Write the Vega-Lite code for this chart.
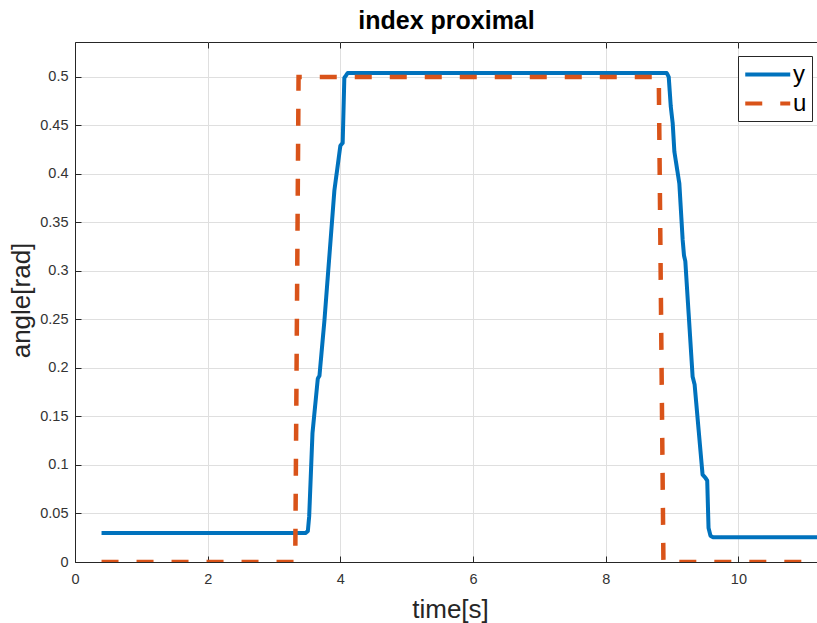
{
  "$schema": "https://vega.github.io/schema/vega-lite/v6.json",
  "width": 743,
  "height": 520,
  "autosize": {"type": "none"},
  "padding": {"left": 75, "top": 42, "right": 0, "bottom": 61},
  "background": "white",
  "title": {"text": "index proximal", "fontSize": 25, "fontWeight": "bold", "font": "Liberation Sans", "color": "#000000", "baseline": "bottom", "offset": 9, "frame": "group", "anchor": "middle", "dy": 26},
  "config": {
    "view": {"stroke": "#262626", "strokeWidth": 1},
    "axis": {
      "domainColor": "#262626",
      "tickColor": "#262626",
      "gridColor": "#dfdfdf",
      "gridWidth": 1,
      "labelFont": "Liberation Sans",
      "labelFontSize": 14.5,
      "labelColor": "#333333",
      "labelFlush": false,
      "titleFont": "Liberation Sans",
      "titleFontSize": 26,
      "titleFontWeight": "normal",
      "titleColor": "#262626"
    }
  },
  "resolve": {"axis": {"x": "independent", "y": "independent"}},
  "data": {
    "values": [
      {"s": "y", "t": 0.4, "v": 0.03},
      {"s": "y", "t": 3.48, "v": 0.03},
      {"s": "y", "t": 3.51, "v": 0.032},
      {"s": "y", "t": 3.53, "v": 0.047},
      {"s": "y", "t": 3.58, "v": 0.133},
      {"s": "y", "t": 3.66, "v": 0.189},
      {"s": "y", "t": 3.685, "v": 0.192},
      {"s": "y", "t": 3.76, "v": 0.249},
      {"s": "y", "t": 3.91, "v": 0.383},
      {"s": "y", "t": 4.0, "v": 0.429},
      {"s": "y", "t": 4.035, "v": 0.432},
      {"s": "y", "t": 4.06, "v": 0.499},
      {"s": "y", "t": 4.11, "v": 0.504},
      {"s": "y", "t": 8.92, "v": 0.504},
      {"s": "y", "t": 8.95, "v": 0.5},
      {"s": "y", "t": 8.98, "v": 0.47},
      {"s": "y", "t": 9.01, "v": 0.452},
      {"s": "y", "t": 9.035, "v": 0.423},
      {"s": "y", "t": 9.11, "v": 0.39},
      {"s": "y", "t": 9.16, "v": 0.332},
      {"s": "y", "t": 9.18, "v": 0.316},
      {"s": "y", "t": 9.2, "v": 0.31},
      {"s": "y", "t": 9.31, "v": 0.191},
      {"s": "y", "t": 9.34, "v": 0.183},
      {"s": "y", "t": 9.46, "v": 0.09},
      {"s": "y", "t": 9.5, "v": 0.087},
      {"s": "y", "t": 9.53, "v": 0.084},
      {"s": "y", "t": 9.55, "v": 0.035},
      {"s": "y", "t": 9.58, "v": 0.027},
      {"s": "y", "t": 9.62, "v": 0.0255},
      {"s": "y", "t": 11.2, "v": 0.0255},
      {"s": "u", "t": 0.4, "v": 0},
      {"s": "u", "t": 3.32, "v": 0},
      {"s": "u", "t": 3.37, "v": 0.5},
      {"s": "u", "t": 8.8, "v": 0.5},
      {"s": "u", "t": 8.87, "v": 0},
      {"s": "u", "t": 11.2, "v": 0}
    ]
  },
  "layer": [
    {
      "transform": [{"filter": "datum.s === 'y'"}],
      "mark": {"type": "line", "strokeWidth": 4, "clip": true, "strokeJoin": "round"},
      "encoding": {
        "x": {
          "field": "t", "type": "quantitative",
          "scale": {"domain": [0, 11.2], "nice": false, "zero": false},
          "axis": {"orient": "bottom", "values": [0, 2, 4, 6, 8, 10], "title": "time[s]", "ticks": false, "tickSize": 0, "labelPadding": 10, "titleBaseline": "alphabetic", "titleX": 375, "titleY": 55, "grid": true}
        },
        "y": {
          "field": "v", "type": "quantitative",
          "scale": {"domain": [0, 0.536], "nice": false},
          "axis": {"orient": "left", "values": [0, 0.05, 0.1, 0.15, 0.2, 0.25, 0.3, 0.35, 0.4, 0.45, 0.5], "format": "~g", "title": "angle[rad]", "ticks": false, "tickSize": 0, "labelPadding": 7, "titleBaseline": "middle", "titleX": -54, "titleY": 258, "grid": true}
        },
        "color": {
          "field": "s", "type": "nominal",
          "scale": {"domain": ["y", "u"], "range": ["#0072BD", "#D95319"]},
          "legend": {"title": null, "orient": "none", "legendX": 663, "legendY": 14, "fillColor": "white", "strokeColor": "#262626", "padding": 5, "symbolType": "M-1,0H3", "symbolSize": 506, "symbolStrokeWidth": 4, "labelFont": "Liberation Sans", "labelFontSize": 24, "labelColor": "#000000", "labelOffset": 23, "rowPadding": 3}
        },
        "strokeDash": {
          "field": "s", "type": "nominal",
          "scale": {"domain": ["y", "u"], "range": [[1, 0], [17, 18]]},
          "legend": {"title": null, "orient": "none", "legendX": 663, "legendY": 14, "fillColor": "white", "strokeColor": "#262626", "padding": 5, "symbolType": "M-1,0H3", "symbolSize": 506, "symbolStrokeWidth": 4, "labelFont": "Liberation Sans", "labelFontSize": 24, "labelColor": "#000000", "labelOffset": 23, "rowPadding": 3}
        }
      }
    },
    {
      "transform": [{"filter": "datum.s === 'u'"}],
      "mark": {"type": "point", "opacity": 0},
      "encoding": {
        "x": {
          "field": "t", "type": "quantitative",
          "scale": {"domain": [0, 11.2], "nice": false, "zero": false},
          "axis": {"orient": "top", "offset": -6, "tickSize": 6, "values": [0, 2, 4, 6, 8, 10], "labels": false, "title": null, "grid": false, "domain": false}
        },
        "y": {
          "field": "v", "type": "quantitative",
          "scale": {"domain": [0, 0.536], "nice": false},
          "axis": {"orient": "left", "offset": -6, "tickSize": 6, "values": [0, 0.05, 0.1, 0.15, 0.2, 0.25, 0.3, 0.35, 0.4, 0.45, 0.5], "labels": false, "title": null, "grid": false, "domain": false}
        }
      }
    },
    {
      "transform": [{"filter": "datum.s === 'u'"}],
      "mark": {"type": "line", "strokeWidth": 4.5, "clip": true, "strokeCap": "butt"},
      "encoding": {
        "x": {
          "field": "t", "type": "quantitative",
          "scale": {"domain": [0, 11.2], "nice": false, "zero": false},
          "axis": {"orient": "bottom", "offset": -6, "tickSize": 6, "values": [0, 2, 4, 6, 8, 10], "labels": false, "title": null, "grid": false, "domain": false}
        },
        "y": {
          "field": "v", "type": "quantitative",
          "scale": {"domain": [0, 0.536], "nice": false},
          "axis": null
        },
        "color": {
          "field": "s", "type": "nominal",
          "scale": {"domain": ["y", "u"], "range": ["#0072BD", "#D95319"]}
        },
        "strokeDash": {
          "field": "s", "type": "nominal",
          "scale": {"domain": ["y", "u"], "range": [[1, 0], [17, 18]]}
        }
      }
    }
  ]
}
